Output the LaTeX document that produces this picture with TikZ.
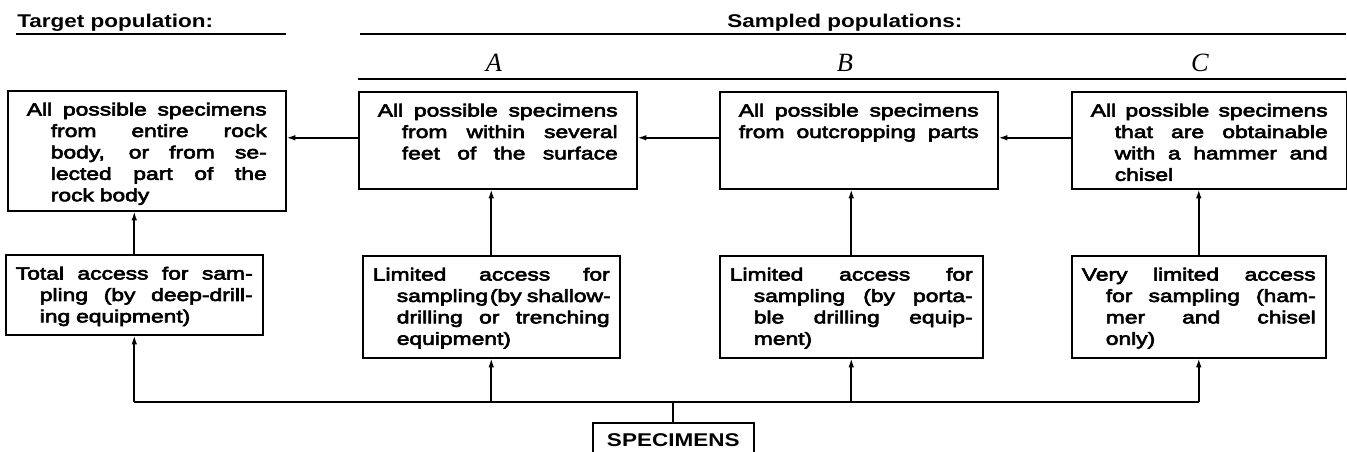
\documentclass[tikz,border=0pt]{standalone}
\usepackage{fontspec}
\setmainfont{Liberation Sans}[FakeStretch=1.22]
\newfontfamily\popfont{Liberation Sans}[FakeStretch=1.3, FakeBold=3.5]
\newfontfamily\abcfont{Liberation Serif}
\usepackage{tikz}
\usetikzlibrary{arrows.meta}
\usetikzlibrary{calc}
\usetikzlibrary{positioning}

\newlength{\popind}
\setlength{\popind}{0.48cm}
\newcommand{\popgap}{\spaceskip=0.3em plus 1fil\relax}
\newcommand{\jline}[1]{\noindent\hbox to \hsize{\popgap #1}\par}
\newcommand{\jind}[1]{\noindent\hspace*{\popind}\hbox to \dimexpr\hsize-\popind\relax{\popgap #1}\par}
\newcommand{\lind}[1]{\noindent\hspace*{\popind}#1\par}
\newcommand{\popcell}[2]{\parbox[t][#1][t]{\hsize}{\baselineskip=12.2pt #2}}

\begin{document}
\begin{tikzpicture}[x=0.02cm, y=-0.02cm]
	\tikzstyle{popbox}=[draw, line width=0.9pt, anchor=north west, inner xsep=0.38cm,
	                        inner ysep=0.24cm, font=\fontsize{10}{12.2}\popfont, text width=4.8cm];
	\tikzstyle{accbox}=[popbox, inner xsep=0.2cm];
	\tikzstyle{head}=[anchor=base west, inner sep=0pt, font=\fontsize{10.5}{12}\selectfont\bfseries];
	\tikzstyle{abc}=[anchor=base, inner sep=0pt, font=\fontsize{15}{15}\selectfont\abcfont\itshape];
	\tikzstyle{link}=[line width=0.9pt, -{Latex[length=5pt, width=3.2pt]}];
	\tikzstyle{rule}=[line width=0.9pt];
	\useasboundingbox (0,0) rectangle (1347,452);
	% headings
	\node[head] (tgthead) at (17,28) {Target population:};
	\node[head] (smphead) at (727,28) {Sampled populations:};
	\foreach \n/\x in {A/494, B/845, C/1200}
	{\node[abc] (lbl\n) at (\x,72) {\n};}
	\coordinate (tl0) at (16,34);
	\coordinate (tl1) at (286,34);
	\coordinate (sl0) at (360,34);
	\coordinate (sl1) at (1346,34);
	\coordinate (al0) at (358,79);
	\coordinate (al1) at (1346,79);
	\foreach \a/\b in {tl0/tl1, sl0/sl1, al0/al1}
	{\draw[rule] (\a) -- (\b);}
	% populations
	\node[popbox] (tgt) at (7,90) {\popcell{1.92cm}{%
		\jline{All possible specimens}
		\jind{from entire rock}
		\jind{body, or from se-}
		\jind{lected part of the}
		\lind{rock body}}};
	\node[popbox] (topA) at (358,91) {\popcell{1.46cm}{%
		\jline{All possible specimens}
		\jind{from within several}
		\jind{feet of the surface}}};
	\node[popbox] (topB) at (719,91) {\popcell{1.46cm}{%
		\jline{All possible specimens}
		\jline{from outcropping parts}}};
	\node[popbox, text width=4.74cm] (topC) at (1071,91) {\popcell{1.46cm}{%
		\jline{All possible specimens}
		\jind{that are obtainable}
		\jind{with a hammer and}
		\lind{chisel}}};
	% access
	\node[accbox, text width=4.74cm] (bot0) at (5,254) {\popcell{1.12cm}{%
		\jline{Total access for sam-}
		\jind{pling (by deep-drill-}
		\lind{ing equipment)}}};
	\node[accbox, text width=4.74cm] (botA) at (362,255) {\popcell{1.56cm}{%
		\jline{Limited access for}
		\jind{sampling\kern0.1em(by shallow-}
		\jind{drilling or trenching}
		\lind{equipment)}}};
	\node[accbox, text width=4.86cm] (botB) at (719,255) {\popcell{1.56cm}{%
		\jline{Limited access for}
		\jind{sampling (by porta-}
		\jind{ble drilling equip-}
		\lind{ment)}}};
	\node[accbox, text width=4.68cm] (botC) at (1071,255) {\popcell{1.56cm}{%
		\jline{Very limited access}
		\jind{for sampling (ham-}
		\jind{mer and chisel}
		\lind{only)}}};
	\node[draw, line width=0.9pt, anchor=north west, minimum width=3.22cm, minimum height=0.7cm,
	      font=\fontsize{10.5}{12}\selectfont\bfseries] (spec) at (592,422) {SPECIMENS};
	% connectors
	\coordinate (bus) at (675,402);
	\draw[rule] (bot0.south |- bus) -- (botC.south |- bus);
	\draw[rule] (spec.north |- bus) -- (spec.north);
	\foreach \b in {bot0, botA, botB, botC}
	{\draw[link] (\b.south |- bus) -- (\b.south);}
	\foreach \b/\t in {bot0/tgt, botA/topA, botB/topB, botC/topC}
	{\draw[link] (\b.north) -- (\b.north |- \t.south);}
	\foreach \s/\t in {topA/tgt, topB/topA, topC/topB}
	{\draw[link] ([yshift=0.05cm]\s.west) -- ([yshift=0.05cm]\s.west -| \t.east);}
\end{tikzpicture}
\end{document}
